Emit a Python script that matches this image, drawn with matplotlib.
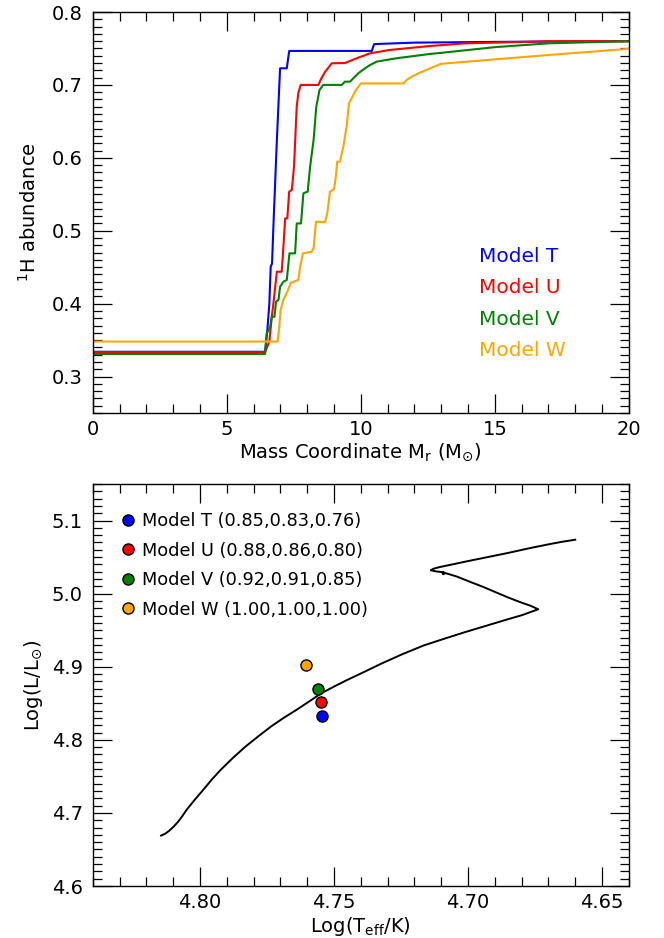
import numpy as np
import matplotlib
matplotlib.use("Agg")
import matplotlib.pyplot as plt
from matplotlib.ticker import MultipleLocator

# ---------------- Data: top panel (1H abundance profiles) ----------------
mass_T = [0, 6.43, 6.515, 6.59, 6.64, 6.69, 6.74, 6.87, 6.99, 7.24, 7.33, 10.41, 10.5, 12.0, 15.0, 20.0]
h1_T   = [0.334, 0.334, 0.364, 0.4005, 0.4507, 0.455, 0.5056, 0.6245, 0.7228, 0.7228, 0.7466, 0.7466, 0.756, 0.758, 0.759, 0.760]

mass_U = [0, 6.43, 6.59, 6.68, 6.74, 6.87, 7.05, 7.09, 7.18, 7.26, 7.33, 7.43, 7.51, 7.61, 7.67, 7.76,
          8.42, 8.51, 8.67, 8.92, 9.41, 9.85, 10.35, 11.09, 12.59, 13.9, 15.0, 17.0, 20.0]
h1_U   = [0.3335, 0.3335, 0.348, 0.382, 0.400, 0.4438, 0.4438, 0.4644, 0.517, 0.517, 0.5536, 0.556, 0.588, 0.670, 0.689, 0.700,
          0.700, 0.7077, 0.718, 0.7297, 0.730, 0.7366, 0.7434, 0.748, 0.7534, 0.757, 0.758, 0.760, 0.760]

mass_V = [0, 6.43, 6.49, 6.62, 6.68, 6.78, 6.84, 6.93, 6.99, 7.11, 7.24, 7.34, 7.55, 7.61, 7.77, 7.86, 8.02,
          8.11, 8.24, 8.34, 8.46, 8.60, 9.29, 9.41, 9.60, 9.72, 9.91, 10.16, 10.35, 10.60, 11.34, 12.59,
          13.0, 15.0, 17.0, 20.0]
h1_V   = [0.331, 0.331, 0.359, 0.368, 0.382, 0.382, 0.4027, 0.405, 0.4233, 0.430, 0.4325, 0.469, 0.469, 0.510, 0.510, 0.5514, 0.5537,
          0.588, 0.6245, 0.670, 0.693, 0.700, 0.700, 0.7045, 0.7045, 0.709, 0.716, 0.7228, 0.7274, 0.732, 0.7366, 0.7425,
          0.744, 0.7518, 0.757, 0.760]

mass_W = [0, 6.90, 6.96, 7.01, 7.11, 7.26, 7.39, 7.67, 7.74, 7.84, 8.17, 8.24, 8.33, 8.67, 8.75, 8.85, 9.00,
          9.07, 9.12, 9.22, 9.35, 9.47, 9.56, 9.66, 9.82, 10.0, 11.59, 11.71, 11.90, 12.15, 12.59, 13.0,
          15.0, 17.0, 20.0]
h1_W   = [0.348, 0.348, 0.368, 0.391, 0.405, 0.4164, 0.4287, 0.4325, 0.4507, 0.469, 0.4713, 0.476, 0.5124, 0.512, 0.524, 0.5536, 0.5568,
          0.574, 0.5947, 0.5947, 0.6153, 0.6427, 0.6748, 0.6817, 0.693, 0.702, 0.702, 0.7068, 0.7113, 0.716, 0.7228, 0.729,
          0.735, 0.741, 0.7495]

model_names = ["Model T", "Model U", "Model V", "Model W"]
model_colors = ["blue", "red", "green", "orange"]

# ---------------- Data: bottom panel (HR diagram) ----------------
track_logT = [4.8145, 4.8129, 4.8114, 4.8098, 4.8082, 4.8066, 4.8050, 4.8019, 4.7987, 4.7956, 4.7924,
              4.7877, 4.7830, 4.7782, 4.7735, 4.7688, 4.7640, 4.7593, 4.7546, 4.7498, 4.7451,
              4.7388, 4.7325, 4.7246, 4.7167, 4.7088, 4.7010, 4.6931, 4.6852, 4.6797, 4.6749, 4.6738,
              4.6765, 4.6804, 4.6852, 4.6899, 4.6946, 4.6994, 4.7041, 4.7073, 4.7096, 4.7093, 4.7088, 4.7091,
              4.7120, 4.7139, 4.7128, 4.7104, 4.7057, 4.7010, 4.6931, 4.6852, 4.6773, 4.6694, 4.6647, 4.6600]
track_logL = [4.6690, 4.6717, 4.6758, 4.6813, 4.6877, 4.6955, 4.7041, 4.7182, 4.7319, 4.7456, 4.7584,
              4.7753, 4.7908, 4.8049, 4.8182, 4.8300, 4.8410, 4.8524, 4.8640, 4.8732, 4.8819,
              4.8928, 4.9040, 4.9170, 4.9289, 4.9384, 4.9475, 4.9562, 4.9649, 4.9708, 4.9772, 4.9786,
              4.9832, 4.9882, 4.9950, 5.0023, 5.0096, 5.0164, 5.0233, 5.0269, 5.0292, 5.0265, 5.0274, 5.0292,
              5.0305, 5.0320, 5.0342, 5.0365, 5.0401, 5.0438, 5.0497, 5.0556, 5.0620, 5.0679, 5.0711, 5.0738]

point_logT = [4.7546, 4.7549, 4.7558, 4.7606]
point_logL = [4.833, 4.852, 4.870, 4.903]
point_labels = ["Model T (0.85,0.83,0.76)", "Model U (0.88,0.86,0.80)",
                "Model V (0.92,0.91,0.85)", "Model W (1.00,1.00,1.00)"]

# ---------------- Figure ----------------
plt.rcParams['font.family'] = ['DejaVu Sans']
plt.rcParams['mathtext.fontset'] = 'dejavusans'

fig = plt.figure(figsize=(6.64, 9.38), dpi=100)
ax1 = fig.add_axes([0.1396, 0.5597, 0.8075, 0.4275])
ax2 = fig.add_axes([0.1396, 0.0554, 0.8075, 0.4286])

def style_axes(ax):
    for s in ax.spines.values():
        s.set_linewidth(1.0)
    ax.tick_params(which='both', direction='in', top=True, right=True, width=0.9, labelsize=14)
    ax.tick_params(which='major', length=13.5)
    ax.tick_params(which='minor', length=6.5)
    ax.tick_params(axis='x', pad=5)
    ax.tick_params(axis='y', pad=7)

# Top panel
for m, h, c, n in zip([mass_T, mass_U, mass_V, mass_W], [h1_T, h1_U, h1_V, h1_W], model_colors, model_names):
    ax1.plot(m, h, color=c, lw=1.5, label=n)
ax1.set_xlim(0, 20)
ax1.set_ylim(0.25, 0.8)
ax1.xaxis.set_minor_locator(MultipleLocator(1))
ax1.yaxis.set_minor_locator(MultipleLocator(0.01))
ax1.set_yticks([0.3, 0.4, 0.5, 0.6, 0.7, 0.8])
ax1.set_yticklabels(['0.3', '0.4', '0.5', '0.6', '0.7', '0.8'])
ax1.set_xticks([0, 5, 10, 15, 20])
ax1.set_xticklabels(['0', '5', '10', '15', '20'])
style_axes(ax1)
ax1.set_xlabel(r'Mass Coordinate M$_{\rm r}$ (M$_{\odot}$)', fontsize=14, labelpad=2)
ax1.set_ylabel(r'$^{1}$H abundance', fontsize=14, labelpad=9)
leg1 = ax1.legend(loc='upper left', bbox_to_anchor=(0.705, 0.435), frameon=False,
                  handlelength=0, handletextpad=0, labelcolor='linecolor',
                  fontsize=14.5, labelspacing=0.62, borderaxespad=0)
for h in leg1.legend_handles:
    h.set_visible(False)

# Bottom panel
ax2.plot(track_logT, track_logL, color='black', lw=1.4)
for x, y, c, lab in zip(point_logT, point_logL, model_colors, point_labels):
    ax2.plot([x], [y], 'o', ms=8, mfc=c, mec='black', mew=1.0, ls='none', label=lab)
ax2.set_xlim(4.84, 4.64)
ax2.set_ylim(4.6, 5.15)
ax2.set_xticks([4.80, 4.75, 4.70, 4.65])
ax2.set_xticklabels(['4.80', '4.75', '4.70', '4.65'])
ax2.xaxis.set_minor_locator(MultipleLocator(0.01))
ax2.set_yticks([4.6, 4.7, 4.8, 4.9, 5.0, 5.1])
ax2.set_yticklabels(['4.6', '4.7', '4.8', '4.9', '5.0', '5.1'])
ax2.yaxis.set_minor_locator(MultipleLocator(0.01))
style_axes(ax2)
ax2.set_xlabel(r'Log(T$_{\rm eff}$/K)', fontsize=14, labelpad=2)
ax2.set_ylabel(r'Log(L/L$_{\odot}$)', fontsize=14, labelpad=5)
ax2.legend(loc='upper left', bbox_to_anchor=(0.039, 0.948), frameon=False, numpoints=1,
           handlelength=0.8, handletextpad=0.4, fontsize=12.8, labelspacing=0.65, borderaxespad=0)

fig.savefig('out.png', dpi=100)
